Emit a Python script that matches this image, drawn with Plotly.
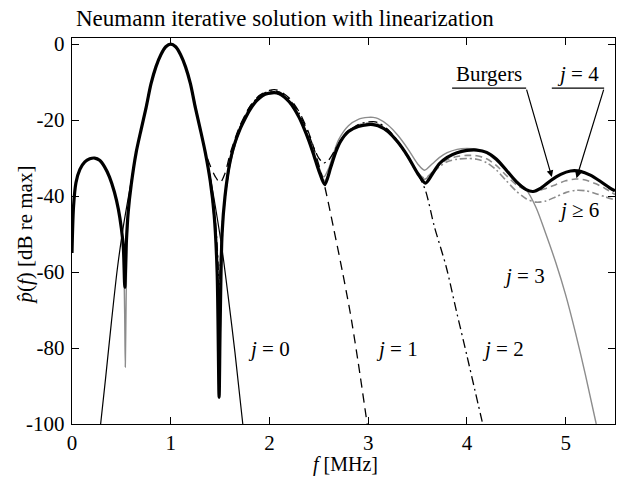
import plotly.graph_objects as go

# ---- data (f in MHz, level in dB re max) ----
burgers = [(0.0,-55),(0.015,-43),(0.04,-36.5),(0.08,-33),(0.13,-31),(0.18,-30.2),(0.23,-30),
           (0.28,-30.6),(0.33,-32.3),(0.38,-35),(0.43,-39),(0.47,-43.5),(0.50,-48.5),(0.52,-53.5),
           (0.535,-64),(0.55,-52.5),(0.57,-44),(0.60,-37),(0.65,-28.5),(0.70,-22.5),(0.75,-16.8),
           (0.80,-10.5),(0.85,-6),(0.90,-2.8),(0.95,-0.7),(1.00,0),(1.05,-0.7),(1.10,-2.8),(1.15,-6),
           (1.20,-10.5),(1.25,-16.8),(1.30,-22.5),(1.35,-28.5),(1.40,-36),(1.44,-45),(1.47,-60),
           (1.49,-93),(1.50,-75),(1.52,-50),(1.55,-40),(1.60,-31),(1.65,-26),(1.70,-22.5),(1.75,-19.8),
           (1.80,-17.4),(1.85,-15.5),(1.90,-14.2),(1.95,-13.3),(2.00,-12.9),(2.05,-12.8),(2.10,-13.1),
           (2.15,-13.9),(2.20,-15.2),(2.25,-17),(2.30,-19.3),(2.35,-22.2),(2.40,-25.5),(2.45,-29.3),
           (2.50,-33.3),(2.56,-37),(2.62,-32.5),(2.67,-28.5),(2.72,-25.6),(2.80,-23),(2.90,-21.7),
           (3.00,-21.2),(3.05,-21.2),(3.10,-21.5),(3.20,-23),(3.30,-25.8),(3.40,-29.5),(3.50,-34),
           (3.58,-36.6),(3.65,-34.2),(3.72,-31.5),(3.80,-29.8),(3.90,-28.6),(4.00,-28),(4.10,-27.9),
           (4.20,-28.5),(4.30,-30.3),(4.40,-33.2),(4.50,-36.2),(4.60,-38.3),(4.67,-38.8),(4.75,-37.9),
           (4.85,-35.9),(4.95,-34.3),(5.05,-33.4),(5.15,-33.5),(5.25,-34.5),(5.35,-36.1),(5.45,-37.9),
           (5.50,-38.6)]

j0 = [(0.29,-100),(0.34,-88),(0.40,-73),(0.46,-59),(0.52,-48),(0.60,-36),(0.65,-28.5),(0.70,-22.5),
      (0.75,-16.8),(0.80,-10.5),(0.85,-6),(0.90,-2.8),(0.95,-0.7),(1.00,0),(1.05,-0.7),(1.10,-2.8),
      (1.15,-6),(1.20,-10.5),(1.25,-16.8),(1.30,-22.5),(1.35,-28.5),(1.40,-35),(1.46,-44),(1.52,-54),
      (1.58,-66),(1.65,-81),(1.73,-100)]

j1 = [(1.30,-22.5),(1.35,-28.3),(1.40,-32),(1.45,-34.8),(1.50,-36.5),(1.55,-34),(1.60,-29),(1.65,-25),
      (1.70,-21.5),(1.80,-16.5),(1.90,-13.5),(2.00,-12.2),(2.05,-12),(2.10,-12.3),(2.20,-14.2),
      (2.30,-17.8),(2.40,-23.5),(2.48,-30),(2.56,-37.5),(2.65,-48.5),(2.74,-60),(2.82,-71),(2.90,-84),
      (2.99,-100)]

j2 = [(1.30,-22.5),(1.35,-28.5),(1.40,-35.5),(1.45,-46),(1.48,-58),(1.49,-72),(1.50,-60),(1.52,-48),
      (1.55,-40.5),(1.60,-31.5),(1.65,-26),(1.70,-22),(1.80,-16.5),(1.90,-13.6),(2.00,-12.4),
      (2.05,-12.3),(2.10,-12.6),(2.20,-14.5),(2.30,-18.2),(2.40,-24),(2.45,-27.3),(2.50,-30),
      (2.55,-31.3),(2.60,-30.5),(2.65,-28.5),(2.70,-26.2),(2.80,-23),(2.90,-21.2),(3.00,-20.5),
      (3.05,-20.4),(3.10,-20.7),(3.20,-22.5),(3.30,-25.5),(3.40,-29.5),(3.50,-34),(3.58,-38.5),
      (3.67,-48),(3.79,-58.6),(3.90,-71),(4.00,-82),(4.08,-91),(4.16,-100)]

j3 = [(0.47,-43.5),(0.50,-48.5),(0.52,-54),(0.533,-70),(0.54,-85),(0.548,-68),(0.56,-50),(0.58,-41.5),
      (0.60,-37),(0.65,-28.5),(0.70,-22.5),(0.80,-10.5),(0.90,-2.8),(1.00,0),(1.10,-2.8),(1.20,-10.5),
      (1.30,-22.5),(1.40,-36),(1.44,-45),(1.47,-58),(1.485,-73),(1.50,-58),(1.52,-48),(1.55,-40.5),
      (1.60,-32),(1.70,-22.3),(1.80,-16.8),(1.90,-13.8),(2.00,-12.8),(2.05,-12.7),(2.10,-13),
      (2.20,-15),(2.30,-19),(2.40,-25),(2.45,-28.5),(2.50,-32.3),(2.55,-35),(2.60,-32.7),(2.65,-28.7),
      (2.70,-25.2),(2.80,-21.5),(2.90,-19.8),(3.00,-19.3),(3.05,-19.3),(3.10,-19.6),(3.20,-21.3),
      (3.30,-24),(3.40,-27.5),(3.50,-31.5),(3.57,-33.2),(3.65,-31.5),(3.72,-29.9),(3.80,-28.6),
      (3.90,-27.7),(4.00,-27.5),(4.10,-27.7),(4.20,-28.8),(4.30,-30.8),(4.40,-33.5),(4.50,-36),
      (4.60,-38.3),(4.70,-43),(4.80,-50),(4.90,-57.5),(5.00,-66),(5.10,-76),(5.20,-87),(5.31,-100)]

j4 = [(1.40,-36),(1.45,-48),(1.48,-66),(1.49,-85),(1.50,-68),(1.52,-51),(1.55,-40.5),(1.60,-31.5),
      (1.70,-22.6),(1.80,-17.2),(1.90,-13.9),(2.00,-13),(2.05,-12.9),(2.10,-13.1),(2.20,-15.1),
      (2.30,-19.2),(2.40,-25.5),(2.50,-33),(2.56,-36),(2.62,-32.3),(2.70,-26.4),(2.80,-22.8),
      (2.90,-21.3),(3.00,-20.8),(3.05,-20.8),(3.10,-21.1),(3.20,-22.7),(3.30,-25.6),(3.40,-29.5),
      (3.50,-33.7),(3.57,-35.3),(3.65,-33.7),(3.72,-31.8),(3.80,-30.4),(3.90,-29.6),(4.00,-29.3),
      (4.10,-29.4),(4.20,-30.2),(4.30,-32),(4.40,-34.6),(4.50,-37),(4.60,-38.4),(4.70,-38.7),
      (4.80,-38),(4.90,-37),(5.00,-36),(5.10,-35.5),(5.20,-35.8),(5.30,-36.7),(5.40,-38),(5.50,-39.6)]

j6 = [(1.40,-36),(1.45,-49),(1.48,-67),(1.49,-88),(1.50,-70),(1.52,-52),(1.55,-40.5),(1.60,-31.3),
      (1.70,-22.6),(1.80,-17.3),(1.90,-14),(2.00,-13.1),(2.05,-13),(2.10,-13.2),(2.20,-15.2),
      (2.30,-19.3),(2.40,-25.6),(2.50,-33.2),(2.56,-36.3),(2.62,-32.5),(2.70,-26.6),(2.80,-23),
      (2.90,-21.6),(3.00,-21.1),(3.05,-21.1),(3.10,-21.4),(3.20,-23),(3.30,-26),(3.40,-29.8),
      (3.50,-34),(3.57,-35.6),(3.65,-34),(3.72,-32.3),(3.80,-31),(3.90,-30.3),(4.00,-30.1),
      (4.10,-30.3),(4.20,-31.2),(4.30,-33.2),(4.40,-36),(4.50,-38.7),(4.60,-40.7),(4.70,-41.6),
      (4.80,-41.3),(4.90,-40.2),(5.00,-39.1),(5.10,-38.5),(5.20,-38.6),(5.30,-39.3),(5.40,-40.2),
      (5.50,-41)]

x_ticks = [0, 1, 2, 3, 4, 5]
y_ticks = [0, -20, -40, -60, -80, -100]
y_ticklabels = ["0", "-20", "-40", "-60", "-80", "-100"]

FONT = "Liberation Serif"
GRAY = "#8c8c8c"

def xs(d):
    return [p[0] for p in d]

def ys(d):
    return [p[1] for p in d]

fig = go.Figure()

def add(d, color, width, dash="solid"):
    fig.add_trace(go.Scatter(x=xs(d), y=ys(d), mode="lines",
                             line=dict(color=color, width=width, dash=dash,
                                       shape="spline", smoothing=0.8),
                             showlegend=False, hoverinfo="skip"))

add(j0, "black", 1.2)
add(j3, GRAY, 1.4)
add(j4, GRAY, 1.6, "7px,4px")
add(j6, GRAY, 1.6, "7px,3px,2px,3px")
add(j1, "black", 1.3, "9px,6px")
add(j2, "black", 1.3, "9px,4px,2px,4px")
add(burgers, "black", 3.2)

axis_common = dict(showline=True, linecolor="black", linewidth=1.4, mirror="ticks",
                   ticks="inside", ticklen=7, tickwidth=1.2, tickcolor="black",
                   showgrid=False, zeroline=False,
                   tickfont=dict(family=FONT, size=21, color="black"))

fig.update_xaxes(range=[0, 5.5], tickvals=x_ticks, ticktext=[str(v) for v in x_ticks],
                 ticklabelstandoff=0, **axis_common)
fig.update_yaxes(range=[-100, 1.6], tickvals=y_ticks, ticktext=y_ticklabels,
                 ticklabelstandoff=2, **axis_common)

ann_font = dict(family=FONT, size=21, color="black")
labels = [
    ("<i>j</i> = 0", 2.00, -80.3),
    ("<i>j</i> = 1", 3.29, -80.3),
    ("<i>j</i> = 2", 4.37, -80.3),
    ("<i>j</i> = 3", 4.58, -61.1),
    ("<i>j</i> ≥ 6", 5.13, -43.7),
    ("Burgers", 4.22, -8.0),
    ("<i>j</i> = 4", 5.13, -8.0),
]
annotations = []
for t, x, y in labels:
    annotations.append(dict(text=t, x=x, y=y, xref="x", yref="y", showarrow=False,
                            font=ann_font, xanchor="center", yanchor="middle"))

# arrows (tail at underline end, head on curve)
annotations.append(dict(text="", x=4.86, y=-35.0, ax=4.60, ay=-11.6, xref="x", yref="y",
                        axref="x", ayref="y", showarrow=True, arrowhead=2, arrowsize=1.1,
                        arrowwidth=1.2, arrowcolor="black"))
annotations.append(dict(text="", x=5.11, y=-35.3, ax=5.39, ay=-11.6, xref="x", yref="y",
                        axref="x", ayref="y", showarrow=True, arrowhead=2, arrowsize=1.1,
                        arrowwidth=1.2, arrowcolor="black"))

# axis titles
annotations.append(dict(text="<i>f</i> [MHz]", x=0.503, y=-0.104, xref="paper", yref="paper",
                        showarrow=False, font=dict(family=FONT, size=20, color="black"),
                        xanchor="center", yanchor="middle"))
annotations.append(dict(text="<i>p̂</i>(<i>f</i>) [dB re max]", x=-0.087, y=0.49,
                        xref="paper", yref="paper", showarrow=False, font=ann_font,
                        textangle=-90, xanchor="center", yanchor="middle"))
# title
annotations.append(dict(text="Neumann iterative solution with linearization",
                        x=(74 - 72) / 543, y=1 + (38 - 18) / 386, xref="paper", yref="paper",
                        showarrow=False, font=dict(family=FONT, size=23, color="black"),
                        xanchor="left", yanchor="middle"))

shapes = [
    dict(type="line", x0=3.85, x1=4.60, y0=-11.6, y1=-11.6, xref="x", yref="y",
         line=dict(color="black", width=1.2)),
    dict(type="line", x0=4.86, x1=5.39, y0=-11.6, y1=-11.6, xref="x", yref="y",
         line=dict(color="black", width=1.2)),
]

fig.update_layout(width=617, height=477, margin=dict(l=72, r=2, t=38, b=53),
                  plot_bgcolor="white", paper_bgcolor="white",
                  annotations=annotations, shapes=shapes)

fig.write_html("out.html", config={"displayModeBar": False},
               post_script="document.body.style.margin='0';document.body.style.overflow='hidden';")
